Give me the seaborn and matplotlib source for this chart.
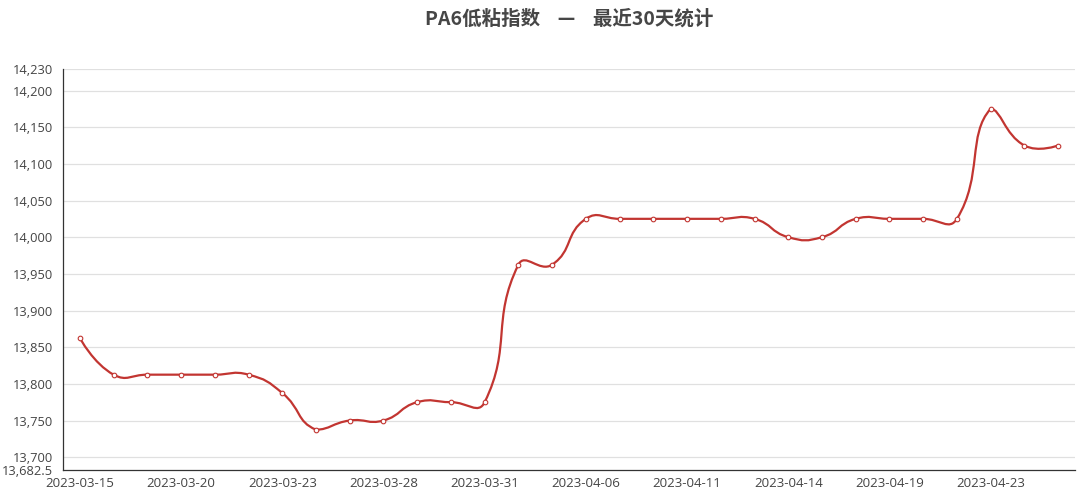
import numpy as np
import pandas as pd
import matplotlib
matplotlib.use('Agg')
import matplotlib.pyplot as plt
from matplotlib.path import Path
from matplotlib.patches import PathPatch
from matplotlib.ticker import FuncFormatter
import seaborn as sns

# data
dates = ['2023-03-15', '2023-03-16', '2023-03-17', '2023-03-20', '2023-03-21',
         '2023-03-22', '2023-03-23', '2023-03-24', '2023-03-27', '2023-03-28',
         '2023-03-29', '2023-03-30', '2023-03-31', '2023-04-03', '2023-04-04',
         '2023-04-06', '2023-04-07', '2023-04-10', '2023-04-11', '2023-04-12',
         '2023-04-13', '2023-04-14', '2023-04-17', '2023-04-18', '2023-04-19',
         '2023-04-20', '2023-04-21', '2023-04-23', '2023-04-24', '2023-04-25']
values = [13862.5, 13812.5, 13812.5, 13812.5, 13812.5,
          13812.5, 13787.5, 13737.5, 13750, 13750,
          13775, 13775, 13775, 13962.5, 13962.5,
          14025, 14025, 14025, 14025, 14025,
          14025, 14000, 14000, 14025, 14025,
          14025, 14025, 14175, 14125, 14125]
y_ticks = [13682.5, 13700, 13750, 13800, 13850, 13900, 13950,
           14000, 14050, 14100, 14150, 14200, 14230]
title = 'PA6低粘指数    —    最近30天统计'

LINE = '#c23531'

df = pd.DataFrame({'x': np.arange(len(dates)), 'date': dates, 'value': values})

sns.set_style('white')
plt.rcParams['font.family'] = ['Open Sans', 'Noto Sans CJK SC', 'DejaVu Sans']

fig = plt.figure(figsize=(10.8, 4.92), dpi=100)
ax = fig.add_axes([63 / 1080, 22 / 492, 1012 / 1080, 401.5 / 492])
ax.set_xlim(-0.5, len(dates) - 0.5)
ax.set_ylim(y_ticks[0], y_ticks[-1])


def smooth_path(xs, ys, sx, sy, smooth=0.5):
    # echarts-like cubic bezier smoothing, computed in pixel space
    p = np.column_stack([np.asarray(xs, float) * sx, np.asarray(ys, float) * sy])
    lo, hi = p.min(axis=0), p.max(axis=0)
    verts = [p[0]]
    codes = [Path.MOVETO]
    cp0 = p[0].copy()
    n = len(p)
    for i in range(1, n):
        cur, prev = p[i], p[i - 1]
        if i == n - 1:
            cp1 = cur.copy()
            v = np.zeros(2)
            ratio = 0.5
        else:
            nxt = p[i + 1]
            v = nxt - prev
            d0 = np.hypot(*(cur - prev))
            d1 = np.hypot(*(nxt - cur))
            ratio = d1 / (d0 + d1)
            cp1 = cur - v * smooth * (1 - ratio)
        cp0 = np.clip(cp0, lo, hi)
        cp1 = np.clip(cp1, lo, hi)
        verts += [cp0, cp1, cur]
        codes += [Path.CURVE4] * 3
        cp0 = cur + v * smooth * ratio
    verts = np.array(verts) / np.array([sx, sy])
    return Path(verts, codes)


sx = 1012 / len(dates)
sy = 401.5 / (y_ticks[-1] - y_ticks[0])
path = smooth_path(df['x'], df['value'], sx, sy)
ax.add_patch(PathPatch(path, facecolor='none', edgecolor=LINE, lw=1.6,
                       zorder=3, capstyle='round', joinstyle='round'))

sns.scatterplot(data=df, x='x', y='value', ax=ax, s=11, marker='o',
                facecolor='white', edgecolor=LINE, linewidth=0.8, zorder=4,
                legend=False)

# grid and axes
ax.set_yticks(y_ticks)
ax.yaxis.set_major_formatter(FuncFormatter(
    lambda v, _: f'{v:,.1f}' if v % 1 else f'{v:,.0f}'))
for t in y_ticks[1:]:
    ax.axhline(t, color='#e0e0e0', lw=0.9, zorder=1)

label_idx = list(range(0, len(dates), 3))
ax.set_xticks(label_idx)
ax.set_xticklabels([dates[i] for i in label_idx])
ax.set_xticks([i - 0.5 for i in range(2, len(dates), 3)], minor=True)

ax.tick_params(axis='x', which='major', length=0, pad=5, labelsize=9.5,
               labelcolor='#444444')
ax.tick_params(axis='x', which='minor', length=4, width=0.8, color='#333333',
               direction='out')
ax.tick_params(axis='y', length=4, width=0.8, pad=3, labelsize=9.3,
               color='#333333', labelcolor='#444444', direction='out')

for side in ['top', 'right']:
    ax.spines[side].set_visible(False)
for side in ['left', 'bottom']:
    ax.spines[side].set_color('#333333')
    ax.spines[side].set_linewidth(0.9)
ax.set_xlabel('')
ax.set_ylabel('')

fig.text(569 / 1080, 1 - 19 / 492, title, ha='center', va='center',
         fontsize=14, fontweight='bold', color='#464646',
         family=['Noto Sans CJK SC', 'DejaVu Sans'])

fig.savefig('out.png', dpi=100)
